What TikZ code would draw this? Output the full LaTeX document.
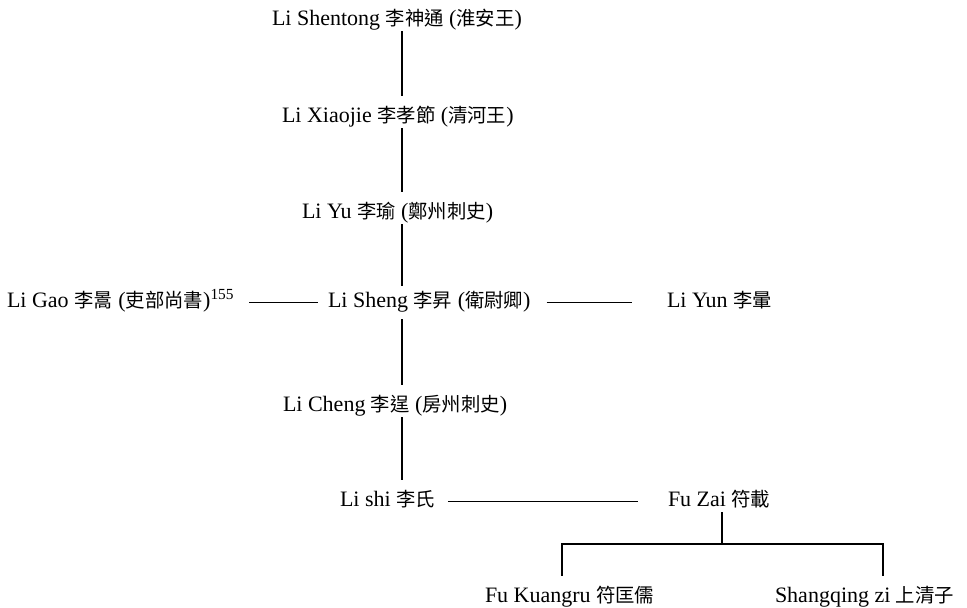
\documentclass[tikz,border=0pt]{standalone}
\usepackage{fontspec}
\setmainfont{Liberation Serif}
\newfontfamily\cjk{Noto Sans CJK TC}[Scale=0.88]
\newcommand{\zh}[1]{{\cjk #1}}
\begin{document}
\begin{tikzpicture}[x=1pt,y=-1pt,
  person/.style={inner sep=0pt,outer sep=0pt,text height=16pt,text depth=5pt,anchor=base west,
    font=\fontsize{22}{26}\selectfont},
  vline/.style={line width=1.6pt},
  hline/.style={line width=1pt},
]
\useasboundingbox (0,0) rectangle (967,608);
\coordinate (axis) at (402,0);
\node[person] (shentong) at (272,25) {Li Shentong \zh{李神通} (\zh{淮安王})};
\node[person] (xiaojie) at (282,122) {Li Xiaojie \zh{李孝節} (\zh{清河王})};
\node[person] (yu) at (302,218) {Li Yu \zh{李瑜} (\zh{鄭州刺史})};
\node[person] (sheng) at (328,307) {Li Sheng \zh{李昇} (\zh{衛尉卿})};
\node[person] (gao) at (7,307) {Li Gao \zh{李暠} (\zh{吏部尚書})\textsuperscript{155}};
\node[person] (yun) at (667,307) {Li Yun \zh{李暈}};
\node[person] (cheng) at (283,411) {Li Cheng \zh{李逞} (\zh{房州刺史})};
\node[person] (lishi) at (340,506) {Li shi \zh{李氏}};
\node[person] (fuzai) at (668,506) {Fu Zai \zh{符載}};
\node[person] (kuangru) at (485,602) {Fu Kuangru \zh{符匡儒}};
\node[person] (shangqing) at (775,602) {Shangqing zi \zh{上清子}};
\coordinate (forkL) at (562,544);
\coordinate (forkM) at (722,544);
\coordinate (forkR) at (883,544);
% vertical descent
\draw[vline,shorten <=1pt,shorten >=10pt] (shentong.south -| axis) -- (xiaojie.north -| axis);
\draw[vline,shorten <=1pt,shorten >=10pt] (xiaojie.south -| axis) -- (yu.north -| axis);
\draw[vline,shorten <=1pt,shorten >=5pt] (yu.south -| axis) -- (sheng.north -| axis);
\draw[vline,shorten <=7pt,shorten >=10pt] (sheng.south -| axis) -- (cheng.north -| axis);
\draw[vline,shorten <=1pt,shorten >=10pt] (cheng.south -| axis) -- (lishi.north -| axis);
% horizontal links
\draw[hline,shorten <=15pt,shorten >=10pt] ([yshift=5pt]gao.base east) -- ([yshift=5pt]sheng.base west);
\draw[hline,shorten <=16pt,shorten >=35pt] ([yshift=5pt]sheng.base east) -- ([yshift=5pt]yun.base west);
\draw[hline,shorten <=13pt,shorten >=30pt] ([yshift=5pt]lishi.base east) -- ([yshift=5pt]fuzai.base west);
% children fork
\draw[vline,shorten <=1pt] (fuzai.south -| forkM) -- (forkM);
\draw[vline] ([xshift=-0.8pt]forkL) -- ([xshift=0.8pt]forkR);
\draw[vline,shorten >=10pt] (forkL) -- (forkL |- kuangru.north);
\draw[vline,shorten >=10pt] (forkR) -- (forkR |- shangqing.north);
\end{tikzpicture}
\end{document}
